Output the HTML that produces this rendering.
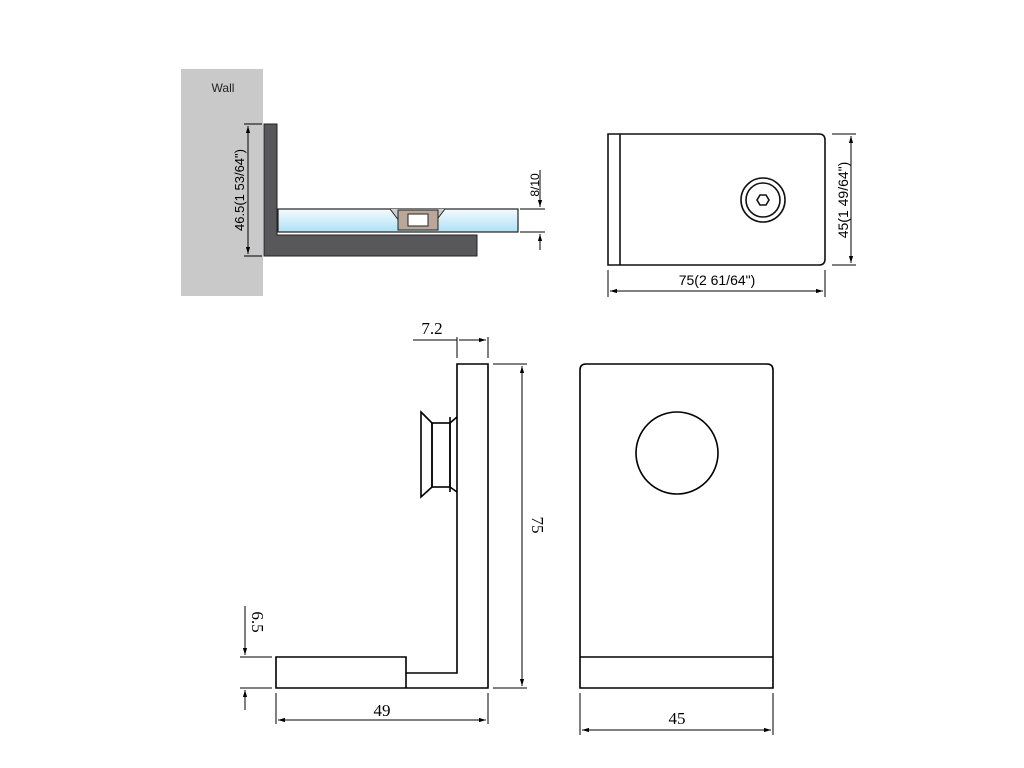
<!DOCTYPE html>
<html><head><meta charset="utf-8"><style>body{margin:0;background:#fff}svg{display:block}</style></head><body>
<svg width="1024" height="768" viewBox="0 0 1024 768" xmlns="http://www.w3.org/2000/svg">
<defs>
<linearGradient id="g" x1="0" y1="0" x2="0" y2="1"><stop offset="0" stop-color="#f4fbff"/><stop offset="1" stop-color="#aee0f5"/></linearGradient>
<marker id="a" viewBox="0 0 10 10" refX="10" refY="5" markerWidth="7" markerHeight="7" orient="auto-start-reverse"><path d="M0,2 L10,5 L0,8 z" fill="#000"/></marker>
</defs>
<rect x="181" y="69" width="82" height="227" fill="#c9c9c9"/>
<text x="223" y="92" font-family="Liberation Sans, sans-serif" font-size="12" text-anchor="middle" fill="#222">Wall</text>
<path d="M264,124 H277 V235 H477 V256 H264 Z" fill="#58585a" stroke="#222" stroke-width="1"/>
<rect x="278" y="209" width="240" height="23" fill="url(#g)" stroke="#222" stroke-width="1.2"/>
<path d="M390,209 L400,222 H435 L445,209" fill="#ccc" stroke="#222"/>
<rect x="398" y="210" width="40" height="20" fill="#b9a89a" stroke="#222"/>
<rect x="408" y="214" width="20" height="12" fill="#fff" stroke="#222"/>
<g stroke="#000" stroke-width="1" fill="none">
<line x1="248" y1="126" x2="248" y2="254" marker-start="url(#a)" marker-end="url(#a)"/>
<line x1="244" y1="124" x2="262" y2="124"/><line x1="244" y1="256" x2="262" y2="256"/>
<line x1="540" y1="170" x2="540" y2="207" marker-end="url(#a)"/>
<line x1="540" y1="250" x2="540" y2="234" marker-end="url(#a)"/>
<line x1="520" y1="209" x2="545" y2="209"/><line x1="520" y1="232" x2="545" y2="232"/>
</g>
<text transform="translate(244,190) rotate(-90)" font-family="Liberation Sans, sans-serif" font-size="13" text-anchor="middle">46.5(1 53/64")</text>
<text transform="translate(539,185) rotate(-90)" font-family="Liberation Sans, sans-serif" font-size="12" text-anchor="middle">8/10</text>

<g stroke="#111" stroke-width="1.6" fill="none">
<path d="M608,134 H819 Q825,134 825,140 V259 Q825,265 819,265 H608 Z"/>
<line x1="620" y1="134" x2="620" y2="265"/>
<circle cx="763" cy="200" r="22"/><circle cx="763" cy="200" r="17"/>
<polygon points="769,200 766,205 760,205 757,200 760,195 766,195"/>
</g>
<g stroke="#000" stroke-width="1" fill="none">
<line x1="851" y1="136" x2="851" y2="263" marker-start="url(#a)" marker-end="url(#a)"/>
<line x1="832" y1="134" x2="856" y2="134"/><line x1="832" y1="265" x2="856" y2="265"/>
<line x1="610" y1="291" x2="823" y2="291" marker-start="url(#a)" marker-end="url(#a)"/>
<line x1="608" y1="270" x2="608" y2="297"/><line x1="825" y1="270" x2="825" y2="297"/>
</g>
<text x="717" y="285" font-family="Liberation Sans, sans-serif" font-size="14" text-anchor="middle">75(2 61/64")</text>
<text transform="translate(848,200) rotate(-90)" font-family="Liberation Sans, sans-serif" font-size="14" text-anchor="middle">45(1 49/64")</text>

<g stroke="#000" stroke-width="1.6" fill="none">
<path d="M457,364 H488 V688 H276 V657 H406 V673 H457 Z"/>
<line x1="406" y1="673" x2="406" y2="688"/>
<path d="M421,412 L432,423 V487 L421,497 Z"/>
<rect x="432" y="423" width="18" height="64"/>
<path d="M450,423 L457,417 M450,487 L457,492 M450,417 V492"/>
<path d="M586,364 H767 Q773,364 773,370 V688 H580 V370 Q580,364 586,364 Z"/>
<line x1="580" y1="657" x2="773" y2="657"/>
<circle cx="677" cy="453" r="41"/>
</g>
<g stroke="#000" stroke-width="1" fill="none">
<line x1="413" y1="340" x2="457" y2="340"/>
<line x1="459" y1="340" x2="486" y2="340" marker-end="url(#a)"/>
<line x1="457" y1="337" x2="457" y2="358"/><line x1="488" y1="337" x2="488" y2="358"/>
<line x1="522" y1="366" x2="522" y2="686" marker-start="url(#a)" marker-end="url(#a)"/>
<line x1="493" y1="364" x2="527" y2="364"/><line x1="493" y1="688" x2="527" y2="688"/>
<line x1="245" y1="606" x2="245" y2="655" marker-end="url(#a)"/>
<line x1="245" y1="710" x2="245" y2="690" marker-end="url(#a)"/>
<line x1="240" y1="657" x2="272" y2="657"/><line x1="240" y1="688" x2="272" y2="688"/>
<line x1="278" y1="720" x2="486" y2="720" marker-start="url(#a)" marker-end="url(#a)"/>
<line x1="276" y1="693" x2="276" y2="724"/><line x1="488" y1="693" x2="488" y2="724"/>
<line x1="582" y1="730" x2="771" y2="730" marker-start="url(#a)" marker-end="url(#a)"/>
<line x1="580" y1="693" x2="580" y2="735"/><line x1="773" y1="693" x2="773" y2="735"/>
</g>
<g font-family="Liberation Serif, serif" font-size="17">
<text x="432" y="334" text-anchor="middle">7.2</text>
<text x="382" y="716" text-anchor="middle">49</text>
<text x="677" y="724" text-anchor="middle">45</text>
<text transform="translate(532,525) rotate(90)" text-anchor="middle">75</text>
<text transform="translate(252,622) rotate(90)" text-anchor="middle">6.5</text>
</g>
</svg>
</body></html>
